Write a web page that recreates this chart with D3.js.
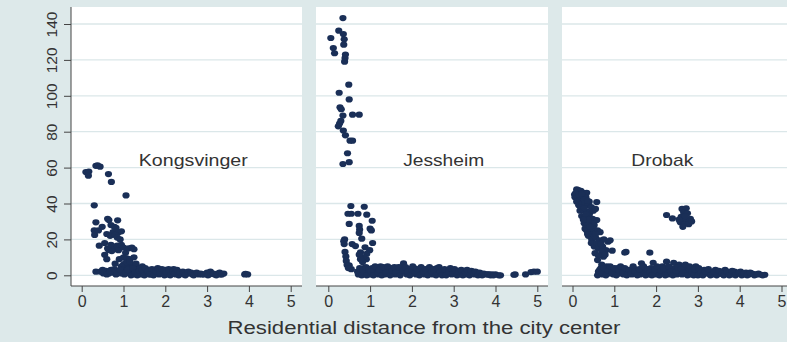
<!DOCTYPE html>
<html>
<head>
<meta charset="utf-8">
<script src="https://cdn.jsdelivr.net/npm/d3@7"></script>
<style>
  body { margin: 0; background: #dde9ea; }
  text { font-family: "Liberation Sans", Arial, sans-serif; fill: #333; }
</style>
</head>
<body>
<div id="chart"></div>
<script>
// values: [distance, value]
const kongsvinger = [
  [0.10,57.5],[0.17,57.8],[0.16,55.5],[0.34,61],[0.38,61.2],[0.44,60.5],[0.64,56.4],[0.71,52],[1.06,44.5],[0.30,39],
  [0.34,29.5],[0.30,25],[0.31,22.5],[0.40,25],[0.49,27],[0.62,31.5],[0.65,30.8],[0.86,30.6],[0.70,28],[0.78,27],
  [0.82,26.5],[0.75,24],[0.88,24],[0.95,24.5],[0.60,23],[0.68,22],[0.80,22.5],[0.85,21],[0.92,20],[0.42,16.5],
  [0.55,18],[0.62,15],[0.70,17],[0.75,16],[0.78,14.5],[0.85,16.5],[0.88,14],[0.65,14],[0.72,13.5],[0.95,17],
  [1.0,15.5],[1.05,12.5],[1.12,15],[1.20,15.5],[1.25,14.5],[0.55,11.4],[0.60,9],[0.80,6.5],[0.34,2],[0.90,9],
  [1.0,10],[1.08,9.5],[1.15,9],[1.25,10],[1.0,6],[1.1,6],[1.2,5.5],[1.3,5],[1.05,7],[1.15,7.5],[1.3,6.5],[0.95,5],[1.45,5],
  [0.45,2],[0.52,1],[0.58,2.5],[0.65,1],[0.70,3],[0.75,1.5],[0.82,0.5],[0.88,2],[0.95,1],[1.0,3.5],
  [1.02,0.5],[1.08,2],[1.12,4],[1.15,1],[1.2,2.5],[1.25,0.5],[1.3,3],[1.35,1.5],[1.4,4],[1.42,0.5],
  [1.48,2],[1.55,1],[1.6,3],[1.65,0.5],[1.7,2],[1.75,1],[1.8,3.5],[1.85,0.5],[1.9,2],[1.95,1],
  [2.0,3],[2.05,0.5],[2.1,2],[2.15,1],[2.2,3.5],[2.25,0.5],[2.3,2],[2.38,1],[2.45,0.5],[2.5,1.5],
  [2.58,1],[2.65,0.5],[2.72,1],[2.8,0.5],[2.88,0.5],[3.0,1.5],[3.05,0.5],[3.1,1],[3.18,0.5],[3.25,1],
  [3.32,0.5],[3.4,1],[3.9,0.5],[3.97,0.5],
  [0.5,3],[0.6,0.5],[0.68,2],[0.78,3.5],[0.85,1],[0.92,3],[1.05,1.5],[1.1,3],[1.18,0],[1.22,4],
  [1.28,1.5],[1.33,0],[1.38,2.5],[1.45,3],[1.5,0],[1.52,4],[1.58,2],[1.62,0.5],[1.68,3.5],[1.72,0],
  [1.78,2],[1.82,4],[1.88,1],[1.92,3.5],[1.98,0],[2.02,1.5],[2.08,3.5],[2.12,0],[2.18,2],[2.22,1],
  [2.28,3],[2.32,0],[2.35,1.5],[2.42,2],[2.48,0],[2.55,2],[2.62,1.5],[2.68,0],[2.75,1.5],[2.85,1],
  [2.92,0.5],[3.02,0],[3.08,2],[3.15,1],[3.22,0],[3.3,1.5],[3.35,0.5],[3.92,0.8]
];

const jessheim = [
  [0.35,143.3],[0.25,136.3],[0.36,134.4],[0.06,132.2],[0.38,131.5],[0.37,128.5],[0.12,126.6],[0.15,123.7],[0.41,123],[0.40,121],
  [0.39,119],[0.49,106.2],[0.26,101.7],[0.50,98],[0.28,93.6],[0.31,92.5],[0.35,89],[0.58,89.5],[0.74,89.5],[0.30,86],
  [0.27,84.5],[0.24,83],[0.36,80.6],[0.41,78],[0.52,75],[0.58,75],[0.46,68],[0.35,62],[0.50,63],
  [0.54,38.6],[0.86,38.2],[0.47,34.3],[0.55,34.3],[0.71,34.3],[0.92,33.8],[1.05,30.4],[0.50,28.6],[0.74,27.5],[0.75,25.5],
  [0.74,23.6],[1.0,26],[1.03,25],[0.80,20.4],[0.39,20],[0.38,17.4],[0.37,19],[0.57,17.4],[0.65,16.3],[1.06,18],[0.99,14],
  [0.92,12],[0.91,9],[0.88,15.6],[0.85,10],[0.82,7.4],[0.77,12.8],[0.40,13],[0.42,10.5],[0.43,8],[0.74,11.5],
  [0.77,9],[0.45,5.8],[0.50,5.6],[0.55,3.4],[0.48,4],
  [0.70,2],[0.72,0.5],[0.78,2],[0.85,4],[0.88,1],[0.95,2.5],[1.0,0.5],[1.05,4],[1.1,1.5],[1.15,3],
  [1.2,0.5],[1.25,5],[1.3,2],[1.35,0.5],[1.4,3.5],[1.45,1],[1.5,4],[1.55,2],[1.6,0.5],[1.65,3],
  [1.7,1],[1.75,4.5],[1.8,6.7],[1.82,2],[1.88,0.5],[1.92,3.5],[1.98,1.5],[2.05,4],[2.1,0.5],[2.15,2.5],
  [2.2,1],[2.25,3.5],[2.3,0.5],[2.35,2],[2.4,1],[2.45,3],[2.5,0.5],[2.55,2],[2.6,4],[2.62,1],
  [2.7,3],[2.75,0.5],[2.8,2],[2.85,1],[2.9,3],[2.95,0.5],[3.0,2],[3.05,1],[3.1,2.5],[3.15,0.5],
  [3.2,1.5],[3.25,2.5],[3.3,0.5],[3.35,1.5],[3.4,1],[3.45,2],[3.5,0.5],[3.55,1.5],[3.6,0.5],[3.65,1],
  [3.7,0.5],[3.78,0.5],[3.85,0.5],[3.92,0.5],[4.0,0.5],[4.08,0],[4.12,0],[4.44,0.3],[4.47,0.5],[4.72,0.5],
  [4.85,1.8],[4.92,2],[5.0,2],
  [0.75,4],[0.8,0],[0.82,3],[0.9,4.5],[0.92,0],[0.98,3.5],[1.02,2],[1.08,0],[1.12,5],[1.18,1.5],
  [1.22,3],[1.28,0],[1.32,4.5],[1.38,1.5],[1.42,5],[1.48,0],[1.52,2.5],[1.58,4.5],[1.62,1.5],[1.68,4.5],
  [1.72,0],[1.78,2.5],[1.85,4.5],[1.9,2],[1.95,0],[2.0,3],[2.02,5],[2.08,1.5],[2.12,3.5],[2.18,0],
  [2.22,4.5],[2.28,2],[2.32,3.5],[2.38,0],[2.42,4.5],[2.48,2],[2.52,3.5],[2.58,0],[2.65,4.5],[2.68,2],
  [2.72,0],[2.78,3.5],[2.82,0],[2.88,2],[2.92,4],[2.98,1],[3.02,3.5],[3.08,0],[3.12,2],[3.18,3],
  [3.22,0],[3.28,1.5],[3.32,3],[3.38,0],[3.42,2.5],[3.48,1],[3.52,2],[3.58,0],[3.62,1.5],[3.68,0],
  [3.72,1],[3.82,0.5],[3.88,0],[3.95,0]
];

const drobak = [
  [0.05,45],[0.10,47.9],[0.14,47.5],[0.20,47],[0.27,46],[0.34,46],[0.06,43.5],[0.12,44],[0.18,43],[0.25,44],
  [0.32,43.5],[0.40,41],[0.58,40.8],[0.10,41],[0.15,39],[0.22,40],[0.30,40],[0.38,39],[0.45,38],[0.18,36],
  [0.25,36.5],[0.35,35.5],[0.42,35],[0.50,36],[0.55,37],[0.22,33],[0.30,32.6],[0.40,33],[0.48,31.5],[0.58,30.8],
  [0.28,29],[0.35,28],[0.45,29],[0.52,28],[0.30,26],[0.34,25],[0.42,24],[0.50,26],[0.60,25],[0.66,24],
  [0.38,22],[0.46,20],[0.55,21],[0.65,19.5],[0.75,20],[0.85,18.7],[0.90,19.5],[0.45,18],[0.52,16],[0.62,15],
  [0.72,16],[0.80,14],[0.95,13.7],[0.54,12.3],[0.74,10.4],[0.60,8.5],[1.25,12.6],[1.28,13],[1.85,12.6],[0.70,6],
  [0.08,46],[0.16,45],[0.22,45.5],[0.28,42],[0.36,41.5],[0.20,38],[0.28,37.5],[0.32,34],[0.38,31],[0.26,31],
  [0.42,27],[0.48,23],[0.36,23],[0.55,23],[0.58,18],[0.68,17.5],[0.70,13],[0.78,11.5],[0.62,11],
  [2.25,33.6],[2.39,31.7],[2.62,37],[2.72,37.3],[2.66,35],[2.75,34.5],[2.6,32.5],[2.7,31],[2.82,31.5],[2.58,29.5],
  [2.66,28.5],[2.78,28.5],[2.85,30],[2.64,27],[2.55,31],[2.7,33],
  [0.62,2],[0.68,4],[0.72,0.5],[0.78,2.5],[0.82,5],[0.88,1],[0.92,3],[0.98,0.5],[1.02,2],[1.08,4],
  [1.12,1],[1.18,2.5],[1.22,0.5],[1.28,3],[1.32,1],[1.38,2],[1.42,0.5],[1.48,3.5],[1.52,1],[1.58,2],
  [1.62,0.5],[1.65,6.7],[1.68,3],[1.72,1],[1.78,2],[1.82,0.5],[1.88,4],[1.93,7],[1.95,1.5],[2.0,0.5],
  [2.05,3],[2.1,1],[2.15,5],[2.2,2],[2.25,7.6],[2.28,0.5],[2.32,3],[2.38,1],[2.42,7],[2.45,4],
  [2.5,0.5],[2.55,6],[2.58,2],[2.62,0.5],[2.68,4],[2.72,1.5],[2.78,3],[2.82,0.5],[2.88,2],[2.95,5],
  [2.98,1],[3.05,2.5],[3.1,0.5],[3.15,3],[3.2,1],[3.28,2],[3.35,0.5],[3.42,3],[3.48,1],[3.55,2],
  [3.6,0.5],[3.65,3],[3.72,1.5],[3.8,0.5],[3.88,2],[3.95,1],[4.02,2],[4.08,0.5],[4.15,1.5],[4.22,0.5],
  [4.3,1],[4.38,0.5],[4.45,1],[4.52,0.3],[4.6,0.3],
  [0.6,0],[0.65,3],[0.7,1.5],[0.75,4],[0.8,0],[0.85,2.5],[0.9,5],[0.95,1.5],[1.0,4],[1.05,0],
  [1.1,3],[1.15,5],[1.2,1.5],[1.25,4],[1.3,0],[1.35,3],[1.4,1],[1.45,5],[1.5,2],[1.55,0],
  [1.6,3.5],[1.7,5],[1.75,0],[1.8,3.5],[1.85,1.5],[1.9,0],[1.98,3],[2.02,5],[2.08,0],[2.12,2.5],
  [2.18,4],[2.22,0],[2.3,5],[2.35,2],[2.4,0],[2.48,2.5],[2.52,4.5],[2.6,3.5],[2.65,1.5],[2.7,6],
  [2.75,0],[2.8,5],[2.85,2],[2.9,0],[2.92,3.5],[3.0,0],[3.02,4],[3.08,1.5],[3.12,0],[3.18,2],
  [3.25,3.5],[3.3,0],[3.38,2],[3.45,0],[3.5,2.5],[3.58,1],[3.62,0],[3.7,2],[3.75,0],[3.82,2.5],
  [3.9,0],[3.98,1.5],[4.05,0],[4.1,1],[4.18,0],[4.25,1.5],[4.35,0],[4.42,0.5],[4.55,0]
];

const panelNames = ["Kongsvinger", "Jessheim", "Drobak"];
const panelData = [kongsvinger, jessheim, drobak];
const labelPos = [[2.67, 64], [2.76, 64], [2.15, 64]];
const labelWidth = [109, 81, 62];
const xTicks = [0, 1, 2, 3, 4, 5];
const yTicks = [0, 20, 40, 60, 80, 100, 120, 140];
const xTitle = "Residential distance from the city center";

const width = 787, height = 342;
const dotColor = "#1a2f57";
const gridColor = "#dbe7e9";
const axisColor = "#444";

const svg = d3.select("#chart").append("svg")
  .attr("width", width).attr("height", height);

svg.append("rect").attr("width", width).attr("height", height).attr("fill", "#dde9ea");

// shared y scale
const plotTop = 7, plotBottom = 286;
const y = d3.scaleLinear().domain([0, 140]).range([275.3, 24]);

// each panel: white plot region and where 0..5 lands
const panels = [
  { left: 71, right: 302, x0: 81.7 },
  { left: 316, right: 548, x0: 328.3 },
  { left: 562, right: 794, x0: 572.5 }
];

panels.forEach((p, i) => {
  const x = d3.scaleLinear().domain([0, 5]).range([p.x0, p.x0 + 209]);
  const g = svg.append("g").attr("class", "panel");

  g.append("rect")
    .attr("x", p.left).attr("y", plotTop)
    .attr("width", p.right - p.left).attr("height", plotBottom - plotTop)
    .attr("fill", "#fff");

  // horizontal grid
  g.append("g").selectAll("line").data(yTicks).enter()
    .append("line")
    .attr("x1", p.left).attr("x2", p.right)
    .attr("y1", d => y(d)).attr("y2", d => y(d))
    .attr("stroke", gridColor).attr("stroke-width", 1.3);

  // x axis
  const xAxis = g.append("g")
    .attr("transform", `translate(0,${plotBottom})`)
    .call(d3.axisBottom(x).tickValues(xTicks).tickSize(6).tickPadding(4).tickFormat(d3.format("d")));
  xAxis.select(".domain").remove();
  xAxis.append("line").attr("x1", p.left).attr("x2", p.right)
    .attr("stroke", axisColor).attr("stroke-width", 1);
  xAxis.selectAll(".tick line").attr("stroke", axisColor);
  xAxis.selectAll(".tick text")
    .attr("font-size", 16).attr("fill", "#333")
    .style("font-family", '"Liberation Sans", Arial, sans-serif');

  // dots
  g.append("g").selectAll("ellipse").data(panelData[i]).enter()
    .append("ellipse")
    .attr("cx", d => x(d[0])).attr("cy", d => y(d[1]))
    .attr("rx", 3.6).attr("ry", 3.1)
    .attr("fill", dotColor);

  // panel label
  const lp = labelPos[i];
  g.append("text")
    .attr("x", x(lp[0])).attr("y", y(lp[1]) + 6)
    .attr("text-anchor", "middle")
    .attr("font-size", 17)
    .attr("fill", "#333")
    .attr("textLength", labelWidth[i]).attr("lengthAdjust", "spacingAndGlyphs")
    .text(panelNames[i]);
});

// y axis on the first panel only
const yAxis = svg.append("g")
  .attr("transform", "translate(71,0)")
  .call(d3.axisLeft(y).tickValues(yTicks).tickSize(7).tickPadding(0).tickFormat(d3.format("d")));
yAxis.select(".domain").remove();
yAxis.append("line").attr("y1", plotTop).attr("y2", plotBottom)
  .attr("stroke", axisColor).attr("stroke-width", 1);
yAxis.selectAll(".tick line").attr("stroke", axisColor);
yAxis.selectAll(".tick text")
  .attr("font-size", 15.5).attr("fill", "#333")
  .attr("x", 0).attr("dy", 0)
  .attr("text-anchor", "middle")
  .attr("transform", "translate(-14,0) rotate(-90)")
  .style("font-family", '"Liberation Sans", Arial, sans-serif');

// x title
svg.append("text")
  .attr("x", 424).attr("y", 334)
  .attr("text-anchor", "middle")
  .attr("font-size", 17.5)
  .attr("fill", "#333")
  .attr("textLength", 393).attr("lengthAdjust", "spacingAndGlyphs")
  .text(xTitle);
</script>
</body>
</html>
